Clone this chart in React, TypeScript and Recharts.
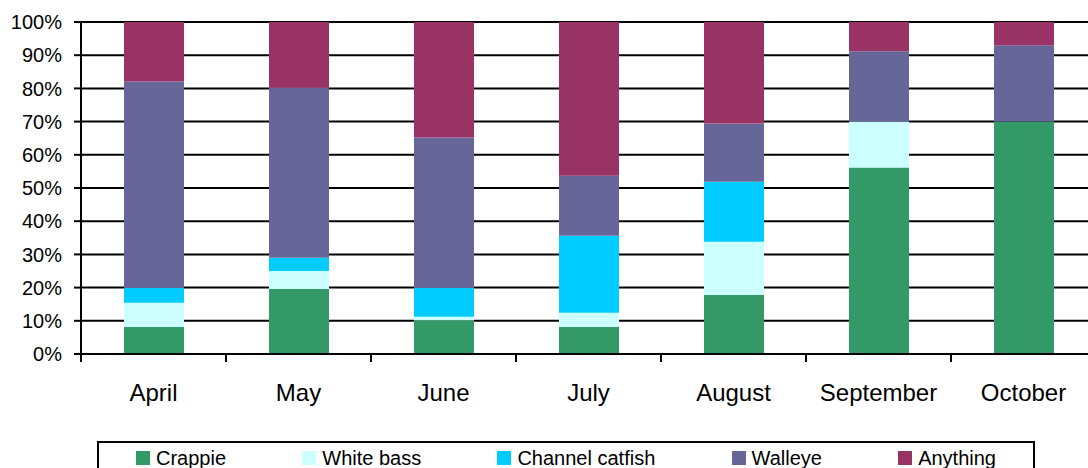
import { BarChart, Bar, XAxis, YAxis, CartesianGrid, Legend } from "recharts";

const months = ["April", "May", "June", "July", "August", "September", "October"];

const crappie = [8.1, 19.6, 10.2, 8.1, 17.8, 56.2, 70.0];
const whiteBass = [7.3, 5.4, 1.0, 4.3, 16.0, 13.8, 0];
const channelCatfish = [4.5, 4.0, 8.7, 23.2, 18.1, 0, 0];
const walleye = [62.2, 51.2, 45.3, 18.1, 17.5, 21.2, 23.0];
const anything = [17.9, 19.8, 34.8, 46.3, 30.6, 8.8, 7.0];

const yTicks = [0, 10, 20, 30, 40, 50, 60, 70, 80, 90, 100];

const series = [
  { key: "crappie", name: "Crappie", color: "#339966" },
  { key: "whiteBass", name: "White bass", color: "#CCFFFF" },
  { key: "channelCatfish", name: "Channel catfish", color: "#00CCFF" },
  { key: "walleye", name: "Walleye", color: "#666699" },
  { key: "anything", name: "Anything", color: "#993366" },
];

const data = months.map((month, i) => ({
  month,
  crappie: crappie[i],
  whiteBass: whiteBass[i],
  channelCatfish: channelCatfish[i],
  walleye: walleye[i],
  anything: anything[i],
}));

const FONT = "'Liberation Sans', Arial, sans-serif";
const CHART_W = 1098;
const CHART_H = 468;
const Y_AXIS_W = 81;
const MARGIN_RIGHT = 2;
const BAND = (CHART_W - Y_AXIS_W - MARGIN_RIGHT) / months.length;

const MonthTick = (props: any) => {
  const { x, y, payload } = props;
  return (
    <g>
      <line x1={x - BAND / 2} y1={y} x2={x - BAND / 2} y2={y + 8} stroke="#000" strokeWidth={2} />
      <text x={x} y={y + 47} textAnchor="middle" fontSize={24} fontFamily={FONT} fill="#000">
        {payload.value}
      </text>
    </g>
  );
};

const LegendBox = () => (
  <div
    style={{
      boxSizing: "border-box",
      width: 938,
      height: 40,
      border: "2px solid #000",
      display: "flex",
      justifyContent: "space-between",
      alignItems: "flex-start",
      padding: "4px 37px 0 37px",
      fontFamily: FONT,
      fontSize: 20,
      lineHeight: "22px",
      color: "#000",
      background: "#fff",
    }}
  >
    {series.map((s) => (
      <div key={s.key} style={{ display: "flex", alignItems: "center" }}>
        <span style={{ display: "inline-block", width: 14, height: 14, background: s.color, marginRight: 6 }} />
        <span>{s.name}</span>
      </div>
    ))}
  </div>
);

export default function App() {
  return (
    <div style={{ width: 1088, height: 468, overflow: "hidden", position: "relative", background: "#fff" }}>
      <style>{`body{margin:0}`}</style>
      <BarChart
        width={CHART_W}
        height={CHART_H}
        data={data}
        margin={{ top: 22, right: MARGIN_RIGHT, bottom: 0, left: 0 }}
      >
        <CartesianGrid horizontal vertical={false} stroke="#000" strokeWidth={2} />
        <XAxis
          dataKey="month"
          height={114}
          axisLine={{ stroke: "#000", strokeWidth: 2 }}
          tickLine={false}
          tickSize={0}
          tickMargin={0}
          interval={0}
          tick={<MonthTick />}
        />
        <YAxis
          width={Y_AXIS_W}
          domain={[0, 100]}
          ticks={yTicks}
          interval={0}
          tickFormatter={(v) => `${v}%`}
          axisLine={{ stroke: "#000", strokeWidth: 2 }}
          tickLine={{ stroke: "#000", strokeWidth: 2 }}
          tickSize={7}
          tickMargin={12}
          tick={{ fontSize: 20, fontFamily: FONT, fill: "#000" }}
        />
        <Legend
          layout="horizontal"
          verticalAlign="middle"
          align="center"
          wrapperStyle={{ left: 97, top: 441, width: 938, height: 40 }}
          content={<LegendBox />}
        />
        {series.map((s) => (
          <Bar
            key={s.key}
            dataKey={s.key}
            name={s.name}
            stackId="a"
            fill={s.color}
            barSize={60}
            isAnimationActive={false}
          />
        ))}
      </BarChart>
    </div>
  );
}
